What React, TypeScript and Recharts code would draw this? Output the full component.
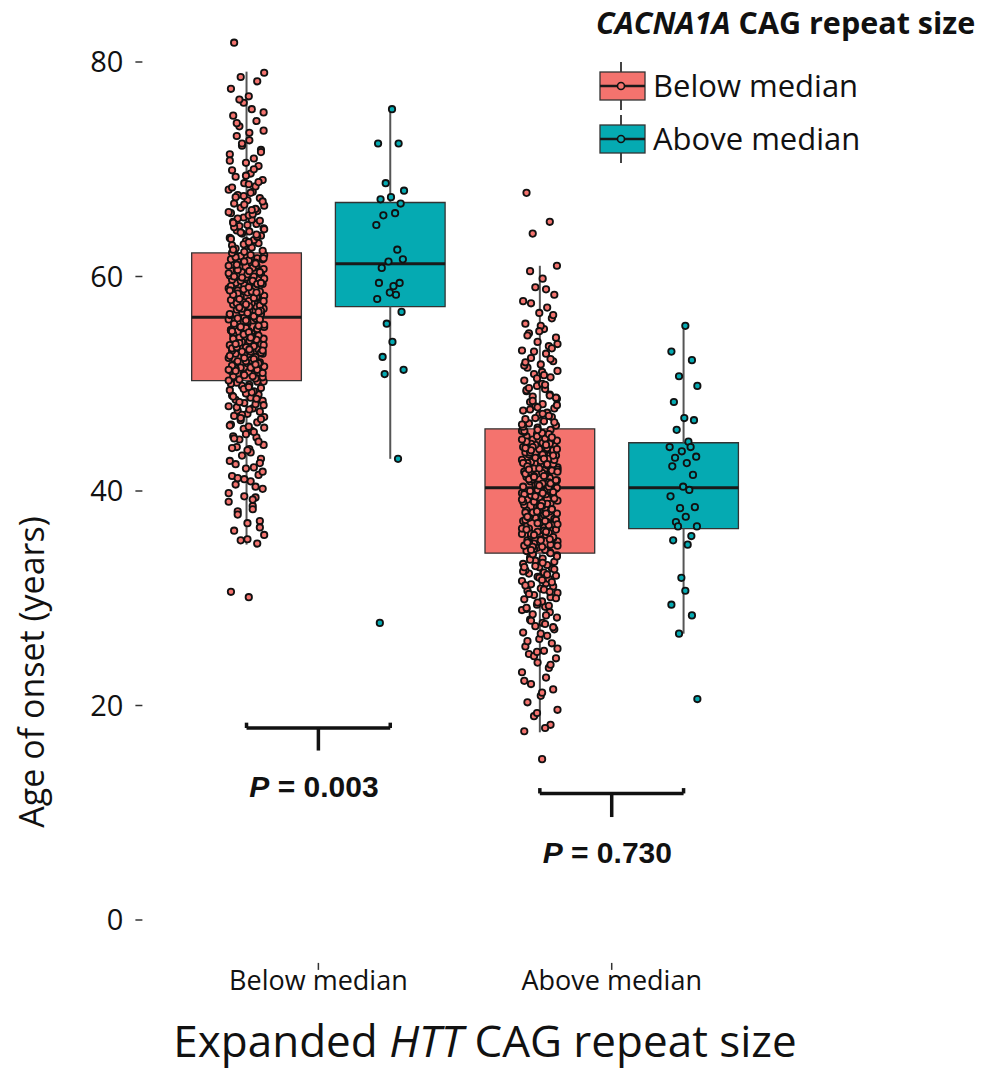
import React from 'react';
import { ComposedChart, Scatter, XAxis, YAxis, ReferenceArea, ReferenceLine, ReferenceDot, Label } from 'recharts';

const GROUPS = ['Below median', 'Above median'];
const HUES = ['Below median', 'Above median'];
const Y_TICKS = [0, 20, 40, 60, 80];
const P_VALUES = ['0.003', '0.730'];

// age of onset, HTT below median / CACNA1A below median
const SALMON_BELOW = [
  30.1, 30.6, 35.1, 35.4, 35.9, 36.3, 37.0, 37.2, 38.1, 38.6, 39.0, 39.4, 39.5, 40.2, 40.6, 40.9, 41.4, 41.5, 42.1, 42.2,
  42.8, 43.0, 43.3, 43.9, 44.1, 44.3, 44.8, 45.0, 45.1, 45.6, 45.8, 46.0, 46.2, 46.4, 46.6, 46.9, 47.0, 47.2, 47.4, 47.5,
  47.7, 47.9, 48.1, 48.2, 48.4, 48.5, 48.7, 48.9, 49.0, 49.1, 49.3, 49.4, 49.6, 49.8, 49.9, 50.1, 50.2,
  50.4, 50.5, 50.7, 50.9, 50.9, 51.1, 51.2, 51.3, 51.5, 51.6, 51.8, 51.9, 52.0, 52.1, 52.3, 52.4, 52.5, 52.7, 52.8, 52.8,
  53.0, 53.1, 53.2, 53.4, 53.5, 53.6, 53.7, 53.9, 54.0, 54.0, 54.2, 54.3, 54.4, 54.6, 54.7, 54.8, 54.9, 55.0, 55.1, 55.3,
  55.3, 55.4, 55.6, 55.7, 55.8, 55.9, 56.0, 56.1, 56.2, 50.6, 51.4, 52.2, 53.3, 54.5, 55.2,
  56.3, 56.4, 56.5, 56.7, 56.8, 56.9, 57.0, 57.1, 57.2, 57.4, 57.5, 57.6, 57.7, 57.8, 58.0, 58.1, 58.2, 58.3, 58.5, 58.6,
  58.7, 58.8, 58.9, 59.0, 59.2, 59.3, 59.4, 59.5, 59.7, 59.8, 59.9, 60.0, 60.1, 60.2, 60.4, 60.5, 60.6, 60.7, 60.9, 61.0,
  61.1, 61.2, 61.4, 61.5, 61.6, 61.7, 61.9, 62.0, 62.1, 56.6, 57.3, 58.4, 59.6, 60.3, 61.3,
  62.3, 62.4, 62.6, 62.8, 62.9, 63.1, 63.3, 63.4, 63.6, 63.8, 64.0, 64.2, 64.3, 64.5, 64.7, 64.9, 65.1, 65.3, 65.5, 65.7,
  65.9, 66.1, 66.4, 66.6, 66.8, 67.1, 67.3, 67.6, 67.9, 68.1, 68.4, 68.7, 69.0, 69.3, 69.6, 69.9, 70.3, 70.6, 71.0, 71.4,
  71.8, 72.2, 72.7, 73.1, 73.6, 74.0, 74.5, 75.0, 75.6, 76.2, 76.8, 77.5, 78.2, 78.6, 79.0, 81.8,
  35.5, 36.6, 37.8, 38.3, 39.8, 40.4, 41.1, 41.8, 42.5, 43.6, 44.0, 44.6, 45.3, 45.5, 46.1, 46.7, 47.1, 47.6, 47.8, 48.0,
  48.3, 48.6, 48.8, 49.2, 49.5, 49.7, 50.0, 50.2, 46.8, 45.9, 44.9, 43.8, 42.6, 41.2, 39.2,
  50.3, 50.5, 50.8, 51.0, 51.2, 51.5, 51.7, 51.9, 52.1, 52.3, 52.6, 52.9, 53.0, 53.2, 53.4, 53.6, 53.8, 54.1, 54.2, 54.4,
  54.6, 54.8, 55.0, 55.1, 55.3, 55.5, 55.6, 55.8, 56.0, 56.1, 50.7, 51.3, 51.8, 52.4, 53.1, 53.7, 54.3, 54.9, 55.4, 55.9,
  56.3, 56.5, 56.8, 57.0, 57.2, 57.5, 57.7, 57.9, 58.1, 58.3, 58.6, 58.8, 59.0, 59.1, 59.3, 59.6, 59.8, 60.0, 60.2, 60.4,
  60.6, 60.8, 61.0, 61.2, 61.4, 61.6, 61.8, 62.0, 62.2, 56.7, 57.4, 58.0, 58.7, 59.4, 59.9, 60.5, 61.1, 61.7, 57.1, 58.5,
  62.5, 62.7, 63.0, 63.2, 63.5, 63.7, 64.1, 64.4, 64.6, 64.8, 65.2, 65.4, 65.8, 66.0, 66.3, 66.7, 67.0, 67.4, 67.8, 68.3,
  68.8, 69.4, 70.0, 70.8, 71.6, 72.4, 73.4, 74.3, 75.3, 76.5, 63.9, 65.0, 66.2, 67.5, 68.6,
];

// HTT below median / CACNA1A above median
const TEAL_BELOW = [
  75.6, 72.4, 72.4, 68.7, 68.0, 67.2, 67.4, 66.8, 65.7, 65.9, 64.8, 62.5, 61.4, 61.6, 60.8, 59.1, 59.4, 59.4, 58.5, 58.3,
  57.9, 56.7, 55.6, 53.9, 52.5, 51.3, 50.9, 43.0, 27.7,
];

// HTT above median / CACNA1A below median
const SALMON_ABOVE = [
  15.0, 17.6, 18.2, 19.0, 19.6, 20.3, 20.9, 21.5, 22.0, 22.6, 23.1, 23.5, 24.0, 24.4, 24.8, 25.1, 25.5, 25.8, 26.2, 26.5,
  26.8, 27.1, 27.4, 27.7, 28.0, 28.2, 28.5, 28.7, 29.0, 29.2, 29.4, 29.7, 29.9, 30.1, 30.3, 30.5, 30.7, 30.9, 31.1, 31.3,
  31.4, 31.6, 31.8, 32.0, 32.1, 32.3, 32.4, 32.6, 32.8, 32.9, 33.1, 33.2, 33.4, 33.5, 33.7, 33.8, 34.0, 34.1,
  34.3, 34.4, 34.5, 34.7, 34.8, 34.9, 35.0, 35.1, 35.3, 35.4, 35.5, 35.6, 35.8, 35.9, 36.0, 36.1, 36.2, 36.4, 36.5, 36.6,
  36.7, 36.9, 37.0, 37.1, 37.2, 37.4, 37.5, 37.6, 37.7, 37.9, 38.0, 38.1, 38.2, 38.4, 38.5, 38.6, 38.7, 38.8, 39.0, 39.1,
  39.2, 39.3, 39.5, 39.6, 39.7, 39.8, 40.0, 40.1, 40.2, 35.2, 36.3, 37.3, 38.3, 39.4, 40.2,
  40.4, 40.5, 40.6, 40.7, 40.9, 41.0, 41.1, 41.2, 41.3, 41.5, 41.6, 41.7, 41.8, 41.9, 42.1, 42.2, 42.3, 42.4, 42.5, 42.7,
  42.8, 42.9, 43.0, 43.1, 43.3, 43.4, 43.5, 43.6, 43.7, 43.9, 44.0, 44.1, 44.2, 44.3, 44.5, 44.6, 44.7, 44.8, 44.9, 45.1,
  45.2, 45.3, 45.4, 45.5, 45.7, 41.4, 42.0, 42.6, 43.2, 43.8, 44.4, 45.0, 45.6, 40.8,
  45.9, 46.1, 46.3, 46.5, 46.7, 46.9, 47.1, 47.3, 47.5, 47.7, 47.9, 48.1, 48.3, 48.6, 48.8, 49.0, 49.3, 49.5, 49.8, 50.0,
  50.3, 50.6, 50.9, 51.2, 51.5, 51.8, 52.1, 52.4, 52.8, 53.1, 53.5, 53.9, 54.3, 54.7, 55.1, 55.6, 56.1, 56.6, 57.1, 57.7,
  58.3, 59.0, 59.8, 60.5, 61.0, 64.0, 65.1, 67.8,
  17.9, 19.3, 21.2, 22.3, 23.8, 24.6, 25.3, 26.0, 26.7, 27.3, 27.9, 28.4, 28.9, 29.3, 29.6, 30.0, 30.4, 30.8, 31.2, 31.5,
  31.9, 32.2, 32.5, 32.7, 33.0, 33.3, 33.6, 33.9, 34.1, 30.6, 29.1, 27.6, 25.0, 31.7, 32.9,
  34.2, 34.6, 34.9, 35.2, 35.4, 35.7, 36.0, 36.2, 36.5, 36.8, 37.0, 37.3, 37.5, 37.8, 38.0, 38.3, 38.5, 38.8, 39.0, 39.3,
  39.5, 39.8, 40.0, 40.3, 34.8, 35.5, 36.4, 37.2, 38.1, 38.9, 39.7, 40.1, 35.9, 36.9, 37.6, 38.6, 39.9, 34.5, 37.9, 39.2,
  40.4, 40.6, 40.9, 41.1, 41.4, 41.6, 41.9, 42.1, 42.4, 42.6, 42.9, 43.1, 43.4, 43.6, 43.9, 44.1, 44.4, 44.6, 44.9, 45.1,
  45.4, 45.6, 40.7, 41.3, 41.8, 42.3, 42.8, 43.3, 43.8, 44.3, 44.8, 45.3, 45.7, 41.0, 42.0, 43.0, 44.0, 45.0, 40.5, 42.5,
  46.0, 46.4, 46.8, 47.2, 47.6, 48.0, 48.4, 48.9, 49.4, 49.9, 50.5, 51.1, 51.7, 52.3, 53.0, 53.7, 54.5, 55.4, 56.4, 57.5,
  58.8, 46.2, 47.0, 47.8, 48.7, 49.6, 50.8, 52.0, 53.3, 54.9,
];

// HTT above median / CACNA1A above median
const TEAL_ABOVE = [
  55.4, 53.0, 52.2, 50.7, 49.8, 48.3, 46.8, 46.6, 45.7, 44.6, 44.1, 44.1, 43.7, 43.2, 43.1, 42.6, 42.3, 41.5, 40.4, 40.1,
  39.5, 38.5, 38.4, 37.6, 37.1, 36.7, 36.7, 35.8, 35.4, 35.0, 31.9, 30.7, 29.4, 28.4, 26.7, 20.6,
];

// [lower whisker, q1, median, q3, upper whisker]
const BOX_SALMON_BELOW = [35.0, 50.3, 56.2, 62.2, 79.1];
const BOX_TEAL_BELOW = [43.0, 57.2, 61.2, 66.9, 75.6];
const BOX_SALMON_ABOVE = [17.5, 34.2, 40.3, 45.8, 61.0];
const BOX_TEAL_ABOVE = [26.7, 36.5, 40.3, 44.5, 55.4];

// hand-picked jitter pattern (-1..1)
const JITTER = [
  0.12, -0.83, 0.57, -0.31, 0.94, -0.66, 0.05, 0.71, -0.47, 0.33, -0.95, 0.48, -0.12, 0.86, -0.58, 0.22,
  -0.77, 0.64, -0.03, 0.39, -0.89, 0.77, -0.24, 0.15, -0.52, 0.91, -0.38, 0.53, -0.71, 0.28, -0.15,
];

const SALMON = '#f4736e';
const TEAL = '#05aab2';
const FONT = '"Open Sans", "Noto Sans", sans-serif';
const DODGE = 0.245;
const HALF = 0.187;

const series = [
  { group: 0, hue: 0, values: SALMON_BELOW, box: BOX_SALMON_BELOW, spread: 0.064 },
  { group: 0, hue: 1, values: TEAL_BELOW, box: BOX_TEAL_BELOW, spread: 0.05 },
  { group: 1, hue: 0, values: SALMON_ABOVE, box: BOX_SALMON_ABOVE, spread: 0.064 },
  { group: 1, hue: 1, values: TEAL_ABOVE, box: BOX_TEAL_ABOVE, spread: 0.05 },
].map((s) => {
  const cx = s.group + 1 + (s.hue === 0 ? -DODGE : DODGE);
  const color = s.hue === 0 ? SALMON : TEAL;
  const points = s.values.map((v, i) => ({ x: cx + JITTER[i % JITTER.length] * s.spread, y: v }));
  return { ...s, cx, color, points };
});

// significance brackets, y in data units
const brackets = [
  { center: 1, y: 17.9, drop: 15.8, label: 12.5 },
  { center: 2, y: 11.8, drop: 9.6, label: 6.3 },
];

const XTitle = () => (
  <text x={485} y={1057} textAnchor="middle" fontFamily={FONT} fontSize={44} fill="#111">
    <tspan>{'Expanded '}</tspan>
    <tspan fontStyle="italic">HTT</tspan>
    <tspan>{' CAG repeat size'}</tspan>
  </text>
);

const YTitle = () => (
  <text x={44} y={672} transform="rotate(-90 44 672)" textAnchor="middle" fontFamily={FONT} fontSize={34} fill="#111">
    Age of onset (years)
  </text>
);

function PLabel(props: any) {
  const { viewBox, value } = props;
  const x = viewBox.x + (viewBox.width || 0) / 2;
  const y = viewBox.y + (viewBox.height || 0) / 2;
  return (
    <text x={x} y={y} dy="0.36em" textAnchor="middle" fontFamily='"Liberation Sans", Arial, sans-serif' fontWeight="bold" fontSize={30} fill="#111">
      <tspan fontStyle="italic">P</tspan>
      <tspan>{' = ' + value}</tspan>
    </text>
  );
}

function LegendBlock() {
  const colors = [SALMON, TEAL];
  return (
    <svg width={409} height={180} style={{ position: 'absolute', left: 580, top: 0 }}>
      <text x={16} y={34} fontFamily={FONT} fontWeight="bold" fontSize={30.5} fill="#111">
        <tspan fontStyle="italic">CACNA1A</tspan>
        <tspan>{' CAG repeat size'}</tspan>
      </text>
      {HUES.map((h, i) => {
        const mid = 86 + i * 53;
        return (
          <g key={h}>
            <line x1={41} x2={41} y1={mid - 24} y2={mid + 24} stroke="#444" strokeWidth={2} />
            <rect x={20} y={mid - 14} width={45} height={28} fill={colors[i]} stroke="#333" strokeWidth={1.3} />
            <line x1={20} x2={65} y1={mid} y2={mid} stroke="#1a1a1a" strokeWidth={2.5} />
            <circle cx={41} cy={mid} r={3.5} fill={colors[i]} stroke="#111" strokeWidth={1.6} />
            <text x={73} y={mid + 11} fontFamily={FONT} fontSize={31} fill="#111">{h}</text>
          </g>
        );
      })}
    </svg>
  );
}

const dotShape = (color: string) => (p: any) => (
  <circle cx={p.cx} cy={p.cy} r={3.2} fill={color} stroke="#111" strokeWidth={1.8} />
);

export default function App() {
  return (
    <div style={{ position: 'absolute', left: 0, top: 0, width: 989, height: 1075, background: '#fff' }}>
      <ComposedChart width={989} height={1075} margin={{ top: 19.1, right: 201.3, bottom: 0, left: 0 }}>
        <XAxis
          type="number"
          dataKey="x"
          domain={[0.4, 2.6]}
          ticks={[1, 2]}
          tickFormatter={(v) => GROUPS[v - 1]}
          axisLine={false}
          tickLine={{ stroke: '#333', strokeWidth: 1.5 }}
          tickSize={7}
          tickMargin={1}
          height={112.1}
          tick={{ fill: '#111', fontSize: 27, fontFamily: FONT }}
        >
          <Label content={<XTitle />} />
        </XAxis>
        <YAxis
          type="number"
          dataKey="y"
          domain={[-4, 84]}
          ticks={Y_TICKS}
          axisLine={false}
          tickLine={{ stroke: '#333', strokeWidth: 1.5 }}
          tickSize={7}
          tickMargin={12}
          width={142.4}
          tick={{ fill: '#111', fontSize: 29, fontFamily: FONT }}
        >
          <Label content={<YTitle />} />
        </YAxis>

        {series.map((s) => (
          <ReferenceLine key={'wl' + s.cx} segment={[{ x: s.cx, y: s.box[0] }, { x: s.cx, y: s.box[1] }]} stroke="#555" strokeWidth={2} />
        ))}
        {series.map((s) => (
          <ReferenceLine key={'wu' + s.cx} segment={[{ x: s.cx, y: s.box[3] }, { x: s.cx, y: s.box[4] }]} stroke="#555" strokeWidth={2} />
        ))}
        {series.map((s) => (
          <ReferenceArea
            key={'box' + s.cx}
            x1={s.cx - HALF}
            x2={s.cx + HALF}
            y1={s.box[1]}
            y2={s.box[3]}
            fill={s.color}
            fillOpacity={1}
            stroke="#333"
            strokeWidth={1.3}
          />
        ))}
        {series.map((s) => (
          <ReferenceLine key={'med' + s.cx} segment={[{ x: s.cx - HALF, y: s.box[2] }, { x: s.cx + HALF, y: s.box[2] }]} stroke="#1a1a1a" strokeWidth={3} />
        ))}

        {brackets.map((b) => (
          <ReferenceLine key={'bh' + b.center} segment={[{ x: b.center - DODGE, y: b.y }, { x: b.center + DODGE, y: b.y }]} stroke="#111" strokeWidth={3.5} />
        ))}
        {brackets.map((b) => (
          <ReferenceLine key={'bl' + b.center} segment={[{ x: b.center - DODGE, y: b.y }, { x: b.center - DODGE, y: b.y + 0.5 }]} stroke="#111" strokeWidth={3.5} />
        ))}
        {brackets.map((b) => (
          <ReferenceLine key={'br' + b.center} segment={[{ x: b.center + DODGE, y: b.y }, { x: b.center + DODGE, y: b.y + 0.5 }]} stroke="#111" strokeWidth={3.5} />
        ))}
        {brackets.map((b) => (
          <ReferenceLine key={'bd' + b.center} segment={[{ x: b.center, y: b.y }, { x: b.center, y: b.drop }]} stroke="#111" strokeWidth={3.5} />
        ))}
        {brackets.map((b, i) => (
          <ReferenceDot key={'p' + b.center} x={b.center - 0.015} y={b.label} r={1} fill="none" stroke="none" label={<PLabel value={P_VALUES[i]} />} />
        ))}

        {series.map((s) => (
          <Scatter
            key={'pts' + s.cx}
            name={GROUPS[s.group] + ' / ' + HUES[s.hue]}
            data={s.points}
            dataKey="y"
            shape={dotShape(s.color)}
            isAnimationActive={false}
          />
        ))}
      </ComposedChart>
      <LegendBlock />
    </div>
  );
}
